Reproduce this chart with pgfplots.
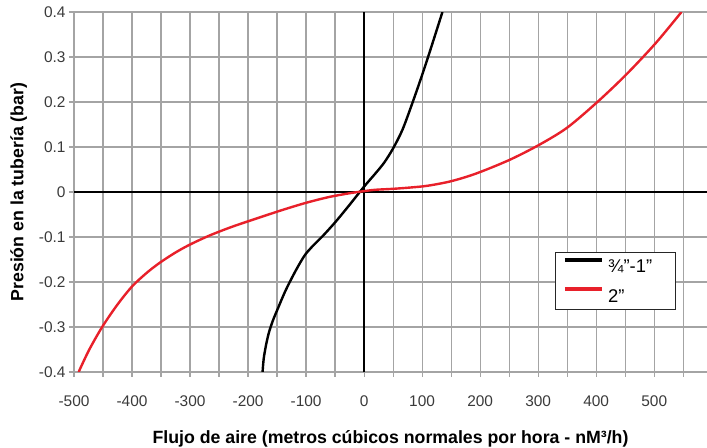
\documentclass[border=0pt]{standalone}
\usepackage{fontspec}
\setmainfont{Liberation Sans}
\usepackage{pgfplots}
\pgfplotsset{compat=1.18}
\definecolor{curvered}{HTML}{E8202A}
\definecolor{gridgray}{HTML}{A4A4A4}
\definecolor{ticktext}{HTML}{3A3A3A}

\begin{document}
\begin{tikzpicture}
\useasboundingbox (0,0) rectangle (707bp,448bp);
\begin{axis}[
  at={(74bp,76bp)}, anchor=south west,
  scale only axis, width=633bp, height=360bp,
  xmin=-500, xmax=591, ymin=-0.4, ymax=0.4,
  axis line style={draw=none},
  tick pos=left, tick align=outside,
  major tick length=5bp,
  tick style={gridgray, line width=1.2bp},
  grid=major,
  major grid style={gridgray, line width=1.2bp},
  xtick={-500,-450,-400,-350,-300,-250,-200,-150,-100,-50,0,50,100,150,200,250,300,350,400,450,500,550},
  xticklabels={-500,,-400,,-300,,-200,,-100,,0,,100,,200,,300,,400,,500,},
  ytick={-0.4,-0.3,-0.2,-0.1,0,0.1,0.2,0.3,0.4},
  yticklabels={-0.4,-0.3,-0.2,-0.1,0,0.1,0.2,0.3,0.4},
  ticklabel style={font=\fontsize{15.5}{16}\selectfont, text=ticktext},
  xticklabel style={yshift=-15bp},
  extra x ticks={0}, extra y ticks={0},
  extra x tick labels={}, extra y tick labels={},
  extra tick style={major grid style={black, line width=1.8bp}, major tick length=0pt},
  xlabel={Flujo de aire (metros cúbicos normales por hora - nM³/h)},
  ylabel={Presión en la tubería (bar)},
  label style={font=\fontsize{17.8}{18}\selectfont\bfseries},
  xlabel style={yshift=-12bp},
  legend style={at={(0.76,0.333)}, anchor=north west, draw=black!85, line width=1.2bp,
    font=\fontsize{18.5}{20}\selectfont, inner xsep=7bp, inner ysep=5bp, row sep=12bp,
    nodes={inner xsep=2bp, inner ysep=2bp, text height=13bp, text depth=0bp},
    /tikz/every odd column/.style={column sep=2bp},
    /tikz/column 2/.style={nodes={text width=58bp}}},
  legend cell align=left,
  legend image code/.code={\draw[line width=4.5bp] (0bp,6.5bp) -- (37bp,6.5bp);},
]
\addplot[black, line width=2.4bp, smooth] coordinates {
  (-175,-0.40) (-173,-0.37) (-169,-0.34) (-164,-0.312) (-157,-0.285)
  (-149,-0.260) (-135,-0.218) (-118,-0.175) (-103,-0.142) (-90,-0.122)
  (-70,-0.096) (-49,-0.066) (-26,-0.030) (0,0.012) (20,0.042) (35,0.066)
  (50,0.097) (66,0.138) (83,0.197) (100,0.26) (115,0.319) (135,0.40)
};
\addlegendentry{¾”-1”}
\addplot[curvered, line width=2.4bp, smooth, tension=0.5] coordinates {
  (-492,-0.40) (-474,-0.351) (-451,-0.299) (-425,-0.250) (-400,-0.210)
  (-375,-0.180) (-353,-0.158) (-327,-0.136) (-302,-0.118) (-267,-0.097)
  (-227,-0.077) (-181,-0.057) (-141,-0.040) (-100,-0.024) (-60,-0.011)
  (-26,-0.003) (0,0.002) (20,0.005) (49,0.007) (80,0.010) (110,0.014)
  (150,0.024) (193,0.041) (250,0.071) (302,0.105) (350,0.143)
  (402,0.20) (451,0.26) (502,0.33) (547,0.40)
};
\addlegendentry{2”}
\end{axis}
\end{tikzpicture}
\end{document}
